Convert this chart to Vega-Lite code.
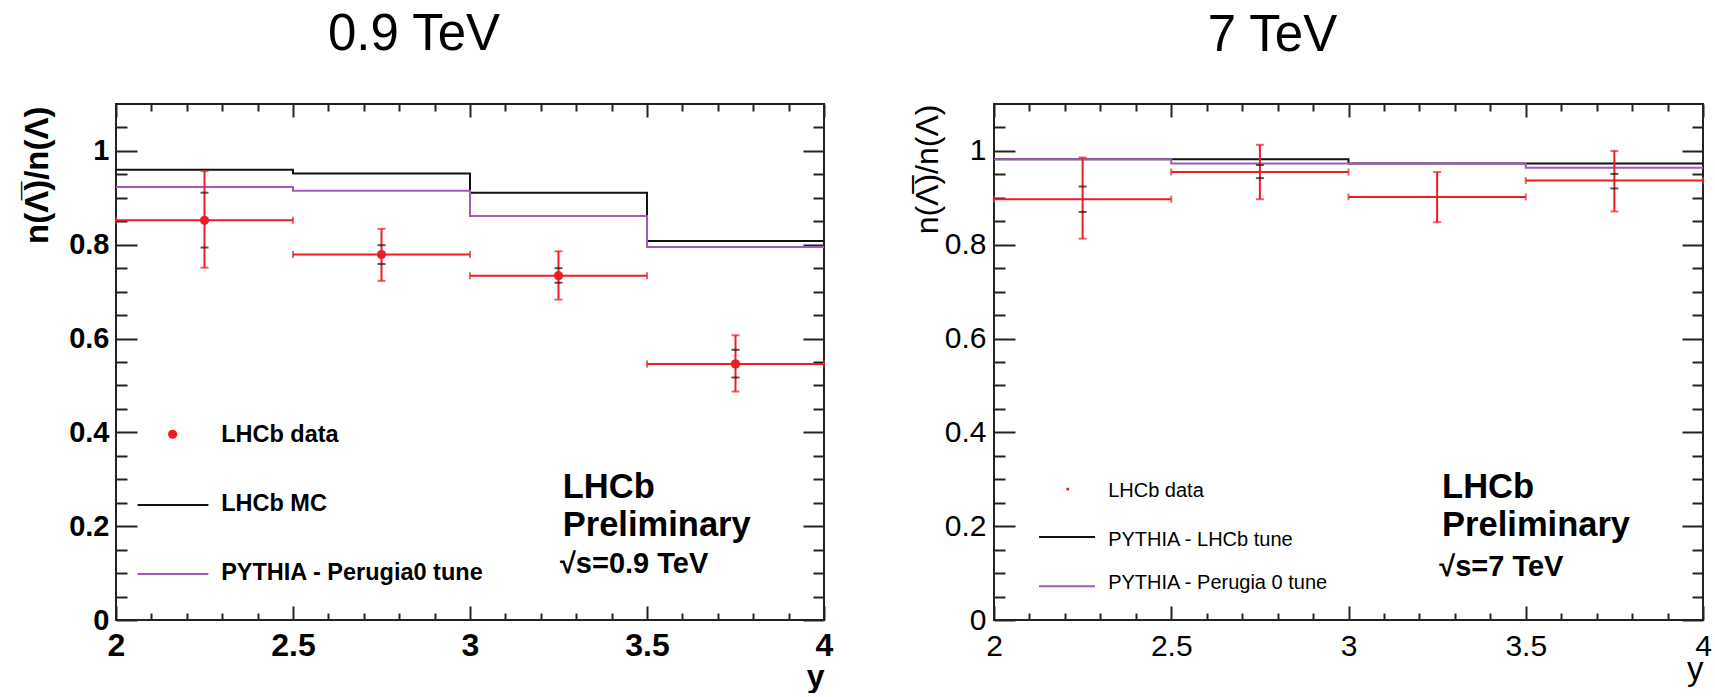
{
  "$schema": "https://vega.github.io/schema/vega-lite/v6.json",
  "background": "white",
  "padding": {"left": 20, "top": 8, "right": 0, "bottom": 0},
  "datasets": {
    "mc09": [
      {"rap": 2, "ratio": 0.960}, {"rap": 2.5, "ratio": 0.952}, {"rap": 3, "ratio": 0.911}, {"rap": 3.5, "ratio": 0.808}, {"rap": 4, "ratio": 0.808}
    ],
    "per09": [
      {"rap": 2, "ratio": 0.923}, {"rap": 2.5, "ratio": 0.915}, {"rap": 3, "ratio": 0.861}, {"rap": 3.5, "ratio": 0.795}, {"rap": 4, "ratio": 0.795}
    ],
    "data09": [
      {"rap": 2.25, "lo": 2.0, "hi": 2.5, "ratio": 0.852, "tot_lo": 0.751, "tot_hi": 0.957, "stat_lo": 0.794, "stat_hi": 0.911},
      {"rap": 2.75, "lo": 2.5, "hi": 3.0, "ratio": 0.779, "tot_lo": 0.723, "tot_hi": 0.834, "stat_lo": 0.759, "stat_hi": 0.799},
      {"rap": 3.25, "lo": 3.0, "hi": 3.5, "ratio": 0.734, "tot_lo": 0.683, "tot_hi": 0.786, "stat_lo": 0.719, "stat_hi": 0.750},
      {"rap": 3.75, "lo": 3.5, "hi": 4.0, "ratio": 0.546, "tot_lo": 0.487, "tot_hi": 0.607, "stat_lo": 0.517, "stat_hi": 0.576}
    ],
    "lhcb7": [
      {"rap": 2, "ratio": 0.982}, {"rap": 2.5, "ratio": 0.982}, {"rap": 3, "ratio": 0.973}, {"rap": 3.5, "ratio": 0.973}, {"rap": 4, "ratio": 0.973}
    ],
    "per7": [
      {"rap": 2, "ratio": 0.982}, {"rap": 2.5, "ratio": 0.973}, {"rap": 3, "ratio": 0.973}, {"rap": 3.5, "ratio": 0.964}, {"rap": 4, "ratio": 0.964}
    ],
    "data7": [
      {"rap": 2.25, "lo": 2.0, "hi": 2.5, "ratio": 0.897, "tot_lo": 0.813, "tot_hi": 0.986, "stat_lo": 0.870, "stat_hi": 0.924},
      {"rap": 2.75, "lo": 2.5, "hi": 3.0, "ratio": 0.955, "tot_lo": 0.897, "tot_hi": 1.013, "stat_lo": 0.942, "stat_hi": 0.970},
      {"rap": 3.25, "lo": 3.0, "hi": 3.5, "ratio": 0.902, "tot_lo": 0.848, "tot_hi": 0.955},
      {"rap": 3.75, "lo": 3.5, "hi": 4.0, "ratio": 0.937, "tot_lo": 0.871, "tot_hi": 1.000, "stat_lo": 0.920, "stat_hi": 0.951}
    ],
    "one": [{}]
  },
  "hconcat": [
    {
      "width": 708,
      "height": 516,
      "title": {"text": "0.9 TeV", "font": "Liberation Sans", "fontSize": 51, "fontWeight": "normal", "color": "#000", "anchor": "middle", "frame": "group", "dx": -56, "offset": 2, "baseline": "alphabetic"},
      "resolve": {"axis": {"x": "independent", "y": "independent"}},
      "layer": [
        {
          "data": {"name": "mc09"},
          "mark": {"type": "line", "interpolate": "step-after", "color": "#111", "strokeWidth": 2},
          "encoding": {
            "x": {"field": "rap", "type": "quantitative", "scale": {"domain": [2, 4], "nice": false, "zero": false},
              "axis": {"orient": "bottom", "values": [2, 2.5, 3, 3.5, 4], "format": "~g", "tickSize": -14, "labelPadding": 24, "labelBaseline": "top", "labelFlush": false, "labelOverlap": false, "labelFont": "Liberation Sans", "labelFontWeight": "bold", "labelFontSize": 32,
                "title": "y", "titleFont": "Liberation Sans", "titleFontWeight": "bold", "titleFontSize": 32, "titleAnchor": "end", "titleAlign": "right", "titleBaseline": "alphabetic", "titleX": 708, "titleY": 66}},
            "y": {"field": "ratio", "type": "quantitative", "scale": {"domain": [0, 1.1], "nice": false},
              "axis": {"orient": "left", "values": [0, 0.2, 0.4, 0.6, 0.8, 1], "format": "~g", "tickSize": -21, "labelPadding": 28, "labelBaseline": "middle", "labelFlush": false, "labelOverlap": false, "labelFont": "Liberation Sans", "labelFontWeight": "bold", "labelFontSize": 29,
                "title": "n(Λ̅)/n(Λ)", "titleFont": "Liberation Sans", "titleFontWeight": "bold", "titleFontSize": 33, "titleAngle": 270, "titleAnchor": "end", "titleAlign": "right", "titleBaseline": "bottom", "titleX": -62, "titleY": 2}}
          }
        },
        {
          "data": {"name": "per09"},
          "mark": {"type": "line", "interpolate": "step-after", "color": "#a05ab8", "strokeWidth": 2},
          "encoding": {
            "x": {"field": "rap", "type": "quantitative",
              "axis": {"orient": "bottom", "values": [2.1, 2.2, 2.3, 2.4, 2.6, 2.7, 2.8, 2.9, 3.1, 3.2, 3.3, 3.4, 3.6, 3.7, 3.8, 3.9], "tickSize": -7, "labels": false, "title": null}},
            "y": {"field": "ratio", "type": "quantitative",
              "axis": {"orient": "left", "values": [0.05, 0.1, 0.15, 0.25, 0.3, 0.35, 0.45, 0.5, 0.55, 0.65, 0.7, 0.75, 0.85, 0.9, 0.95, 1.05], "tickSize": -11, "labels": false, "title": null}}
          }
        },
        {
          "data": {"name": "data09"},
          "mark": {"type": "rule", "color": "#ee1d24", "strokeWidth": 2},
          "encoding": {
            "x": {"field": "lo", "type": "quantitative",
              "axis": {"orient": "top", "values": [2, 2.5, 3, 3.5, 4], "tickSize": -13, "labels": false, "title": null}},
            "x2": {"field": "hi"},
            "y": {"field": "ratio", "type": "quantitative",
              "axis": {"orient": "right", "values": [0, 0.2, 0.4, 0.6, 0.8, 1], "tickSize": -21, "labels": false, "title": null}}
          }
        },
        {
          "data": {"name": "data09"},
          "mark": {"type": "rule", "color": "#ee1d24", "strokeWidth": 2},
          "encoding": {
            "x": {"field": "rap", "type": "quantitative",
              "axis": {"orient": "top", "values": [2.1, 2.2, 2.3, 2.4, 2.6, 2.7, 2.8, 2.9, 3.1, 3.2, 3.3, 3.4, 3.6, 3.7, 3.8, 3.9], "tickSize": -7, "labels": false, "title": null}},
            "y": {"field": "tot_lo", "type": "quantitative",
              "axis": {"orient": "right", "values": [0.05, 0.1, 0.15, 0.25, 0.3, 0.35, 0.45, 0.5, 0.55, 0.65, 0.7, 0.75, 0.85, 0.9, 0.95, 1.05], "tickSize": -11, "labels": false, "title": null}},
            "y2": {"field": "tot_hi"}
          }
        },
        {
          "data": {"name": "data09"},
          "mark": {"type": "tick", "orient": "vertical", "color": "#ee1d24", "size": 7, "thickness": 2},
          "encoding": {"x": {"field": "lo", "type": "quantitative", "axis": null}, "y": {"field": "ratio", "type": "quantitative", "axis": null}}
        },
        {
          "data": {"name": "data09"},
          "mark": {"type": "tick", "orient": "vertical", "color": "#ee1d24", "size": 7, "thickness": 2},
          "encoding": {"x": {"field": "hi", "type": "quantitative", "axis": null}, "y": {"field": "ratio", "type": "quantitative", "axis": null}}
        },
        {
          "data": {"name": "data09"},
          "mark": {"type": "tick", "orient": "horizontal", "color": "#ee1d24", "size": 8, "thickness": 2},
          "encoding": {"x": {"field": "rap", "type": "quantitative", "axis": null}, "y": {"field": "tot_lo", "type": "quantitative", "axis": null}}
        },
        {
          "data": {"name": "data09"},
          "mark": {"type": "tick", "orient": "horizontal", "color": "#ee1d24", "size": 8, "thickness": 2},
          "encoding": {"x": {"field": "rap", "type": "quantitative", "axis": null}, "y": {"field": "tot_hi", "type": "quantitative", "axis": null}}
        },
        {
          "data": {"name": "data09"},
          "mark": {"type": "tick", "orient": "horizontal", "color": "#111", "size": 8, "thickness": 2},
          "encoding": {"x": {"field": "rap", "type": "quantitative", "axis": null}, "y": {"field": "stat_lo", "type": "quantitative", "axis": null}}
        },
        {
          "data": {"name": "data09"},
          "mark": {"type": "tick", "orient": "horizontal", "color": "#111", "size": 8, "thickness": 2},
          "encoding": {"x": {"field": "rap", "type": "quantitative", "axis": null}, "y": {"field": "stat_hi", "type": "quantitative", "axis": null}}
        },
        {
          "data": {"name": "data09"},
          "mark": {"type": "point", "shape": "circle", "filled": true, "color": "#ee1d24", "size": 85, "opacity": 1},
          "encoding": {"x": {"field": "rap", "type": "quantitative", "axis": null}, "y": {"field": "ratio", "type": "quantitative", "axis": null}}
        },
        {
          "data": {"name": "one"},
          "mark": {"type": "point", "shape": "circle", "filled": true, "color": "#ee1d24", "size": 85, "opacity": 1},
          "encoding": {"x": {"datum": 2.16, "type": "quantitative", "axis": null}, "y": {"datum": 0.396, "type": "quantitative", "axis": null}}
        },
        {
          "data": {"name": "one"},
          "mark": {"type": "rule", "color": "#111", "strokeWidth": 2},
          "encoding": {"x": {"datum": 2.061, "type": "quantitative", "axis": null}, "x2": {"datum": 2.261}, "y": {"datum": 0.245, "type": "quantitative", "axis": null}}
        },
        {
          "data": {"name": "one"},
          "mark": {"type": "rule", "color": "#a05ab8", "strokeWidth": 2},
          "encoding": {"x": {"datum": 2.061, "type": "quantitative", "axis": null}, "x2": {"datum": 2.261}, "y": {"datum": 0.098, "type": "quantitative", "axis": null}}
        },
        {
          "data": {"name": "one"},
          "mark": {"type": "text", "text": "LHCb data", "font": "Liberation Sans", "fontWeight": "bold", "fontSize": 23.5, "align": "left", "baseline": "middle", "color": "#000"},
          "encoding": {"x": {"datum": 2.297, "type": "quantitative", "axis": null}, "y": {"datum": 0.395, "type": "quantitative", "axis": null}}
        },
        {
          "data": {"name": "one"},
          "mark": {"type": "text", "text": "LHCb MC", "font": "Liberation Sans", "fontWeight": "bold", "fontSize": 23.5, "align": "left", "baseline": "middle", "color": "#000"},
          "encoding": {"x": {"datum": 2.297, "type": "quantitative", "axis": null}, "y": {"datum": 0.247, "type": "quantitative", "axis": null}}
        },
        {
          "data": {"name": "one"},
          "mark": {"type": "text", "text": "PYTHIA - Perugia0 tune", "font": "Liberation Sans", "fontWeight": "bold", "fontSize": 23.5, "align": "left", "baseline": "middle", "color": "#000"},
          "encoding": {"x": {"datum": 2.297, "type": "quantitative", "axis": null}, "y": {"datum": 0.100, "type": "quantitative", "axis": null}}
        },
        {
          "data": {"name": "one"},
          "mark": {"type": "text", "text": "LHCb", "font": "Liberation Sans", "fontWeight": "bold", "fontSize": 34.5, "align": "left", "baseline": "alphabetic", "color": "#000"},
          "encoding": {"x": {"datum": 3.262, "type": "quantitative", "axis": null}, "y": {"datum": 0.2607, "type": "quantitative", "axis": null}}
        },
        {
          "data": {"name": "one"},
          "mark": {"type": "text", "text": "Preliminary", "font": "Liberation Sans", "fontWeight": "bold", "fontSize": 34.5, "align": "left", "baseline": "alphabetic", "color": "#000"},
          "encoding": {"x": {"datum": 3.262, "type": "quantitative", "axis": null}, "y": {"datum": 0.1788, "type": "quantitative", "axis": null}}
        },
        {
          "data": {"name": "one"},
          "mark": {"type": "text", "text": "√s=0.9 TeV", "font": "Liberation Sans", "fontWeight": "bold", "fontSize": 29, "align": "left", "baseline": "alphabetic", "color": "#000"},
          "encoding": {"x": {"datum": 3.254, "type": "quantitative", "axis": null}, "y": {"datum": 0.1004, "type": "quantitative", "axis": null}}
        }
      ]
    },
    {
      "width": 709,
      "height": 516,
      "title": {"text": "7 TeV", "font": "Liberation Sans", "fontSize": 51, "fontWeight": "normal", "color": "#000", "anchor": "middle", "frame": "group", "dx": -76, "offset": 1, "baseline": "alphabetic"},
      "resolve": {"axis": {"x": "independent", "y": "independent"}},
      "layer": [
        {
          "data": {"name": "lhcb7"},
          "mark": {"type": "line", "interpolate": "step-after", "color": "#111", "strokeWidth": 2},
          "encoding": {
            "x": {"field": "rap", "type": "quantitative", "scale": {"domain": [2, 4], "nice": false, "zero": false},
              "axis": {"orient": "bottom", "values": [2, 2.5, 3, 3.5, 4], "format": "~g", "tickSize": -14, "labelPadding": 25, "labelBaseline": "top", "labelFlush": false, "labelOverlap": false, "labelFont": "Liberation Sans Narrow, Liberation Sans", "labelFontWeight": "normal", "labelFontSize": 30,
                "title": "y", "titleFont": "Liberation Sans Narrow, Liberation Sans", "titleFontWeight": "normal", "titleFontSize": 33, "titleAnchor": "end", "titleAlign": "right", "titleBaseline": "alphabetic", "titleX": 709, "titleY": 59}},
            "y": {"field": "ratio", "type": "quantitative", "scale": {"domain": [0, 1.1], "nice": false},
              "axis": {"orient": "left", "values": [0, 0.2, 0.4, 0.6, 0.8, 1], "format": "~g", "tickSize": -21, "labelPadding": 29, "labelBaseline": "middle", "labelFlush": false, "labelOverlap": false, "labelFont": "Liberation Sans Narrow, Liberation Sans", "labelFontWeight": "normal", "labelFontSize": 30,
                "title": "n(Λ̅)/n(Λ)", "titleFont": "Liberation Sans Narrow, Liberation Sans", "titleFontWeight": "normal", "titleFontSize": 32, "titleAngle": 270, "titleAnchor": "end", "titleAlign": "right", "titleBaseline": "bottom", "titleX": -50, "titleY": 0}}
          }
        },
        {
          "data": {"name": "per7"},
          "mark": {"type": "line", "interpolate": "step-after", "color": "#a05ab8", "strokeWidth": 2},
          "encoding": {
            "x": {"field": "rap", "type": "quantitative",
              "axis": {"orient": "bottom", "values": [2.1, 2.2, 2.3, 2.4, 2.6, 2.7, 2.8, 2.9, 3.1, 3.2, 3.3, 3.4, 3.6, 3.7, 3.8, 3.9], "tickSize": -7, "labels": false, "title": null}},
            "y": {"field": "ratio", "type": "quantitative",
              "axis": {"orient": "left", "values": [0.05, 0.1, 0.15, 0.25, 0.3, 0.35, 0.45, 0.5, 0.55, 0.65, 0.7, 0.75, 0.85, 0.9, 0.95, 1.05], "tickSize": -11, "labels": false, "title": null}}
          }
        },
        {
          "data": {"name": "data7"},
          "mark": {"type": "rule", "color": "#ee1d24", "strokeWidth": 2},
          "encoding": {
            "x": {"field": "lo", "type": "quantitative",
              "axis": {"orient": "top", "values": [2, 2.5, 3, 3.5, 4], "tickSize": -13, "labels": false, "title": null}},
            "x2": {"field": "hi"},
            "y": {"field": "ratio", "type": "quantitative",
              "axis": {"orient": "right", "values": [0, 0.2, 0.4, 0.6, 0.8, 1], "tickSize": -21, "labels": false, "title": null}}
          }
        },
        {
          "data": {"name": "data7"},
          "mark": {"type": "rule", "color": "#ee1d24", "strokeWidth": 2},
          "encoding": {
            "x": {"field": "rap", "type": "quantitative",
              "axis": {"orient": "top", "values": [2.1, 2.2, 2.3, 2.4, 2.6, 2.7, 2.8, 2.9, 3.1, 3.2, 3.3, 3.4, 3.6, 3.7, 3.8, 3.9], "tickSize": -7, "labels": false, "title": null}},
            "y": {"field": "tot_lo", "type": "quantitative",
              "axis": {"orient": "right", "values": [0.05, 0.1, 0.15, 0.25, 0.3, 0.35, 0.45, 0.5, 0.55, 0.65, 0.7, 0.75, 0.85, 0.9, 0.95, 1.05], "tickSize": -11, "labels": false, "title": null}},
            "y2": {"field": "tot_hi"}
          }
        },
        {
          "data": {"name": "data7"},
          "mark": {"type": "tick", "orient": "vertical", "color": "#ee1d24", "size": 7, "thickness": 2},
          "encoding": {"x": {"field": "lo", "type": "quantitative", "axis": null}, "y": {"field": "ratio", "type": "quantitative", "axis": null}}
        },
        {
          "data": {"name": "data7"},
          "mark": {"type": "tick", "orient": "vertical", "color": "#ee1d24", "size": 7, "thickness": 2},
          "encoding": {"x": {"field": "hi", "type": "quantitative", "axis": null}, "y": {"field": "ratio", "type": "quantitative", "axis": null}}
        },
        {
          "data": {"name": "data7"},
          "mark": {"type": "tick", "orient": "horizontal", "color": "#ee1d24", "size": 8, "thickness": 2},
          "encoding": {"x": {"field": "rap", "type": "quantitative", "axis": null}, "y": {"field": "tot_lo", "type": "quantitative", "axis": null}}
        },
        {
          "data": {"name": "data7"},
          "mark": {"type": "tick", "orient": "horizontal", "color": "#ee1d24", "size": 8, "thickness": 2},
          "encoding": {"x": {"field": "rap", "type": "quantitative", "axis": null}, "y": {"field": "tot_hi", "type": "quantitative", "axis": null}}
        },
        {
          "data": {"name": "data7"},
          "mark": {"type": "tick", "orient": "horizontal", "color": "#111", "size": 8, "thickness": 2},
          "encoding": {"x": {"field": "rap", "type": "quantitative", "axis": null}, "y": {"field": "stat_lo", "type": "quantitative", "axis": null}}
        },
        {
          "data": {"name": "data7"},
          "mark": {"type": "tick", "orient": "horizontal", "color": "#111", "size": 8, "thickness": 2},
          "encoding": {"x": {"field": "rap", "type": "quantitative", "axis": null}, "y": {"field": "stat_hi", "type": "quantitative", "axis": null}}
        },
        {
          "data": {"name": "data7"},
          "mark": {"type": "point", "shape": "circle", "filled": true, "color": "#ee1d24", "size": 8, "opacity": 1},
          "encoding": {"x": {"field": "rap", "type": "quantitative", "axis": null}, "y": {"field": "ratio", "type": "quantitative", "axis": null}}
        },
        {
          "data": {"name": "one"},
          "mark": {"type": "point", "shape": "circle", "filled": true, "color": "#ee1d24", "size": 10, "opacity": 1},
          "encoding": {"x": {"datum": 2.208, "type": "quantitative", "axis": null}, "y": {"datum": 0.279, "type": "quantitative", "axis": null}}
        },
        {
          "data": {"name": "one"},
          "mark": {"type": "rule", "color": "#111", "strokeWidth": 2},
          "encoding": {"x": {"datum": 2.127, "type": "quantitative", "axis": null}, "x2": {"datum": 2.285}, "y": {"datum": 0.177, "type": "quantitative", "axis": null}}
        },
        {
          "data": {"name": "one"},
          "mark": {"type": "rule", "color": "#a05ab8", "strokeWidth": 2},
          "encoding": {"x": {"datum": 2.127, "type": "quantitative", "axis": null}, "x2": {"datum": 2.285}, "y": {"datum": 0.072, "type": "quantitative", "axis": null}}
        },
        {
          "data": {"name": "one"},
          "mark": {"type": "text", "text": "LHCb data", "font": "Liberation Sans", "fontWeight": "normal", "fontSize": 20, "align": "left", "baseline": "middle", "color": "#000"},
          "encoding": {"x": {"datum": 2.322, "type": "quantitative", "axis": null}, "y": {"datum": 0.274, "type": "quantitative", "axis": null}}
        },
        {
          "data": {"name": "one"},
          "mark": {"type": "text", "text": "PYTHIA - LHCb tune", "font": "Liberation Sans", "fontWeight": "normal", "fontSize": 20, "align": "left", "baseline": "middle", "color": "#000"},
          "encoding": {"x": {"datum": 2.322, "type": "quantitative", "axis": null}, "y": {"datum": 0.171, "type": "quantitative", "axis": null}}
        },
        {
          "data": {"name": "one"},
          "mark": {"type": "text", "text": "PYTHIA - Perugia 0 tune", "font": "Liberation Sans", "fontWeight": "normal", "fontSize": 20, "align": "left", "baseline": "middle", "color": "#000"},
          "encoding": {"x": {"datum": 2.322, "type": "quantitative", "axis": null}, "y": {"datum": 0.079, "type": "quantitative", "axis": null}}
        },
        {
          "data": {"name": "one"},
          "mark": {"type": "text", "text": "LHCb", "font": "Liberation Sans", "fontWeight": "bold", "fontSize": 34.5, "align": "left", "baseline": "alphabetic", "color": "#000"},
          "encoding": {"x": {"datum": 3.264, "type": "quantitative", "axis": null}, "y": {"datum": 0.2607, "type": "quantitative", "axis": null}}
        },
        {
          "data": {"name": "one"},
          "mark": {"type": "text", "text": "Preliminary", "font": "Liberation Sans", "fontWeight": "bold", "fontSize": 34.5, "align": "left", "baseline": "alphabetic", "color": "#000"},
          "encoding": {"x": {"datum": 3.264, "type": "quantitative", "axis": null}, "y": {"datum": 0.1788, "type": "quantitative", "axis": null}}
        },
        {
          "data": {"name": "one"},
          "mark": {"type": "text", "text": "√s=7 TeV", "font": "Liberation Sans", "fontWeight": "bold", "fontSize": 29, "align": "left", "baseline": "alphabetic", "color": "#000"},
          "encoding": {"x": {"datum": 3.256, "type": "quantitative", "axis": null}, "y": {"datum": 0.094, "type": "quantitative", "axis": null}}
        }
      ]
    }
  ],
  "spacing": 170,
  "bounds": "flush",
  "config": {
    "view": {"stroke": "#222", "strokeWidth": 2},
    "axis": {"domain": false, "grid": false, "tickColor": "#222", "tickWidth": 2, "labelColor": "#000", "titleColor": "#000"}
  }
}
